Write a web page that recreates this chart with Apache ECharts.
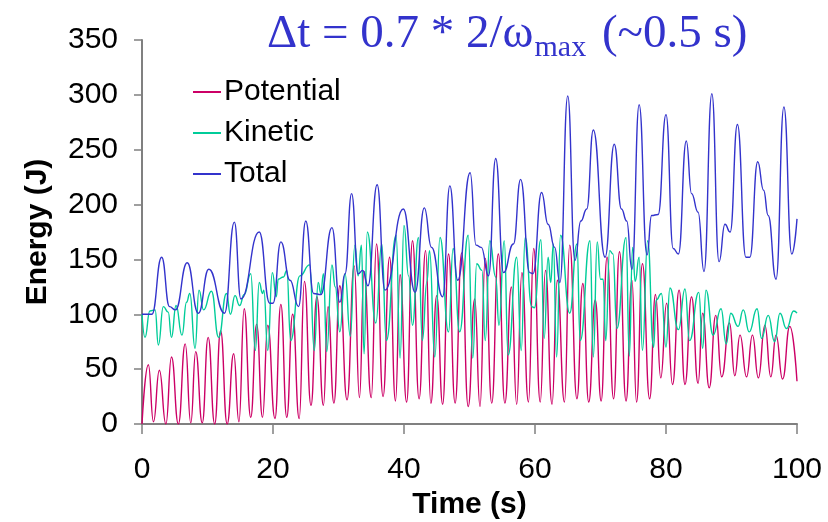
<!DOCTYPE html>
<html>
<head>
<meta charset="utf-8">
<script src="https://cdn.jsdelivr.net/npm/echarts@6/dist/echarts.min.js"></script>
<style>
  html, body { margin: 0; padding: 0; background: #fff; }
  #echart { width: 828px; height: 522px; }
</style>
</head>
<body>
<div id="echart"></div>
<script>
// [time (s), energy (J)] at the turning points
const potential = [
  [0, 0], [0.97, 54], [1.75, 2], [2.65, 49], [3.65, 0], [4.5, 61], [5.55, 0], [6.6, 73],
  [7.45, 1], [8.2, 66], [9.2, 1], [10.1, 79], [11.1, 0], [12.0, 85], [13.0, 0], [14.0, 64],
  [14.8, 2], [15.6, 105], [16.6, 6], [17.5, 91], [18.4, 6], [19.2, 90], [20.3, 5], [21.2, 109],
  [22.1, 6], [23.0, 100], [24.0, 5], [24.8, 130], [25.8, 17], [26.7, 116], [27.7, 17], [28.4, 107],
  [29.3, 19], [30.2, 126], [31.3, 22], [32.4, 144], [33.2, 24], [33.9, 139], [35.0, 24], [35.8, 164],
  [36.8, 25], [37.8, 152], [38.7, 21], [39.4, 136], [40.4, 20], [41.3, 167], [42.3, 23], [43.3, 158],
  [44.1, 19], [45.0, 117], [45.9, 18], [46.8, 155], [47.8, 19], [48.8, 156], [49.8, 16], [50.8, 114],
  [51.6, 16], [52.4, 151], [53.4, 19], [54.4, 155], [55.4, 19], [56.4, 125], [57.2, 18], [58.0, 138],
  [59.0, 20], [59.8, 160], [60.8, 20], [61.6, 140], [62.6, 18], [63.4, 131], [64.5, 20], [65.3, 163],
  [66.4, 23], [67.3, 128], [68.2, 20], [69.2, 113], [70.1, 21], [71.0, 152], [72.0, 23], [72.9, 157],
  [73.9, 21], [74.8, 131], [75.5, 20], [76.4, 146], [77.5, 23], [78.4, 118], [79.2, 42], [80.1, 110],
  [81.0, 36], [82.0, 122], [82.9, 36], [83.9, 116], [84.9, 37], [85.6, 101], [86.6, 33], [87.6, 99],
  [88.5, 43], [89.7, 92], [90.5, 44], [91.3, 81], [92.3, 43], [93.2, 81], [94.1, 42], [95.1, 90],
  [96.0, 43], [96.8, 81], [97.8, 41], [98.9, 89], [100, 39]
];

const kinetic = [
  [0, 100], [0.46, 79], [1.2, 103], [2.0, 104], [2.5, 72], [3.26, 107], [4.0, 102], [4.5, 79],
  [5.2, 108], [6.1, 81], [6.8, 111], [7.3, 119], [8.1, 69], [8.7, 122], [9.4, 104], [10.6, 121],
  [11.7, 79], [12.9, 119], [13.5, 100], [14.2, 117], [14.9, 108], [15.6, 118], [16.6, 137], [17.3, 67],
  [17.9, 129], [18.4, 119], [18.6, 122], [19.2, 67], [19.9, 138], [20.5, 116], [20.8, 132], [21.6, 134],
  [22.1, 140], [22.7, 76], [24.1, 135], [25.6, 145], [26.3, 67], [26.9, 129], [27.3, 119], [27.7, 137],
  [28.2, 66], [29.0, 145], [29.5, 125], [30.2, 84], [31.0, 137], [31.8, 80], [32.5, 163], [33.0, 135],
  [33.5, 163], [33.9, 64], [34.4, 175], [35.7, 92], [36.6, 164], [37.3, 76], [38.8, 172], [39.4, 60],
  [40.0, 181], [40.7, 135], [41.3, 90], [42.2, 170], [42.8, 76], [43.5, 130], [43.9, 158], [44.7, 61],
  [45.5, 170], [46.8, 84], [47.5, 160], [48.5, 84], [49.8, 172], [50.5, 60], [51.1, 146], [51.9, 140],
  [52.4, 76], [53.1, 167], [54.0, 134], [54.5, 90], [55.3, 167], [55.9, 63], [57.2, 152], [57.9, 67],
  [58.5, 170], [59.5, 107], [59.9, 106], [60.9, 168], [61.4, 78], [62.0, 152], [62.4, 129], [62.8, 164],
  [63.3, 61], [63.9, 172], [65.3, 101], [66.4, 164], [66.9, 76], [68.4, 167], [68.9, 61], [69.5, 166],
  [70.0, 132], [70.4, 132], [70.8, 76], [71.4, 158], [71.9, 155], [72.5, 87], [73.9, 170], [74.4, 62],
  [74.9, 161], [75.3, 130], [75.9, 152], [76.4, 67], [77.2, 167], [78.1, 70], [78.5, 113], [79.3, 119],
  [80.0, 70], [80.6, 124], [81.9, 86], [82.9, 123], [83.6, 76], [85.0, 120], [85.6, 69], [86.1, 122],
  [87.2, 81], [88.4, 105], [89.2, 73], [89.9, 101], [91.0, 89], [91.8, 104], [92.7, 84], [93.9, 105],
  [94.6, 78], [95.6, 99], [96.6, 75], [97.4, 101], [98.4, 87], [99.5, 103], [100, 101]
];

const total = [
  [0, 100], [1.5, 100], [3.0, 152], [4.2, 107], [5.1, 104], [6.9, 147], [8.6, 101], [10.2, 141],
  [12.6, 101], [14.1, 184], [15.1, 114], [17.9, 175], [19.5, 110], [20.0, 110], [21.2, 166], [22.6, 131],
  [23.9, 107], [25.0, 185], [26.2, 119], [27.3, 118], [29.0, 179], [30.2, 111], [31.0, 137], [32.0, 210],
  [33.0, 137], [33.7, 140], [34.5, 126], [35.9, 218], [37.1, 122], [39.9, 196], [41.7, 120], [43.1, 197],
  [44.2, 161], [45.9, 116], [47.0, 217], [48.2, 131], [50.1, 229], [51.0, 163], [51.8, 161], [52.9, 135],
  [54.0, 242], [55.2, 138], [56.7, 164], [57.8, 223], [59.2, 138], [59.7, 137], [61.0, 211], [62.0, 182],
  [63.0, 161], [63.8, 129], [65.0, 299], [66.1, 149], [67.0, 185], [67.9, 196], [68.9, 268], [70.7, 152],
  [72.1, 255], [73.2, 196], [74.0, 185], [74.8, 141], [75.9, 291], [77.1, 154], [77.8, 190], [78.8, 191],
  [80.0, 282], [81.1, 160], [81.9, 155], [83.1, 258], [83.9, 210], [84.9, 193], [85.8, 139], [87.0, 301],
  [88.1, 148], [89.0, 182], [89.8, 175], [90.9, 273], [92.2, 152], [92.8, 152], [94.0, 239], [94.9, 213],
  [95.6, 190], [96.8, 132], [98.0, 289], [99.2, 155], [100, 187]
];

const xTicks = [0, 20, 40, 60, 80, 100];
const yTicks = [0, 50, 100, 150, 200, 250, 300, 350];

const chart = echarts.init(document.getElementById('echart'));

const axisGray = '#808080';
const sans = 'Arial, "Liberation Sans", sans-serif';
const serif = '"Times New Roman", "Liberation Serif", serif';

function lineSeries(name, data, color) {
  return {
    name: name,
    type: 'line',
    data: data,
    showSymbol: false,
    smooth: 0.5,
    smoothMonotone: 'x',
    lineStyle: { color: color, width: 1.4 },
    itemStyle: { color: color },
    animation: false
  };
}

const option = {
  backgroundColor: '#fff',
  animation: false,
  title: {
    text: '{a|Δt = 0.7 * 2/ω}{s|max}{a| (~0.5 s)}',
    left: 262,
    top: 5,
    textStyle: {
      fontWeight: 'normal',
      rich: {
        a: { fontFamily: serif, fontSize: 47, fontWeight: 'normal', color: '#3333cc', lineHeight: 50 },
        s: { fontFamily: serif, fontSize: 30, fontWeight: 'normal', color: '#3333cc', lineHeight: 50, padding: [26, 4, 0, 1] }
      }
    }
  },
  legend: {
    orient: 'vertical',
    left: 188,
    top: 72,
    itemWidth: 28,
    itemHeight: 2,
    itemGap: 11,
    icon: 'rect',
    textStyle: { fontFamily: sans, fontSize: 30, color: '#000', padding: [0, 0, 0, -2] },
    data: ['Potential', 'Kinetic', 'Total']
  },
  grid: { left: 142, right: 31, top: 40, bottom: 98, containLabel: false, outerBoundsMode: 'none' },
  xAxis: {
    type: 'value',
    min: xTicks[0],
    max: xTicks[xTicks.length - 1],
    interval: 20,
    name: 'Time (s)',
    nameLocation: 'middle',
    nameGap: 65,
    nameTextStyle: { fontFamily: sans, fontSize: 30, fontWeight: 'bold', color: '#000' },
    axisLine: { show: true, lineStyle: { color: axisGray, width: 2 } },
    axisTick: { show: true, length: 10, lineStyle: { color: axisGray, width: 1.5 } },
    axisLabel: { margin: 31, fontFamily: sans, fontSize: 30, color: '#000' },
    splitLine: { show: false }
  },
  yAxis: {
    type: 'value',
    min: yTicks[0],
    max: yTicks[yTicks.length - 1],
    interval: 50,
    name: 'Energy (J)',
    nameLocation: 'middle',
    nameGap: 89,
    nameTextStyle: { fontFamily: sans, fontSize: 30, fontWeight: 'bold', color: '#000' },
    axisLine: { show: true, lineStyle: { color: axisGray, width: 2 } },
    axisTick: { show: true, inside: false, length: 8, lineStyle: { color: axisGray, width: 1.5 } },
    axisLabel: { margin: 24, fontFamily: sans, fontSize: 30, color: '#000' },
    splitLine: { show: false }
  },
  series: [
    lineSeries('Potential', potential, '#cc0066'),
    lineSeries('Kinetic', kinetic, '#00cc99'),
    lineSeries('Total', total, '#3333cc')
  ]
};

chart.setOption(option);
</script>
</body>
</html>
